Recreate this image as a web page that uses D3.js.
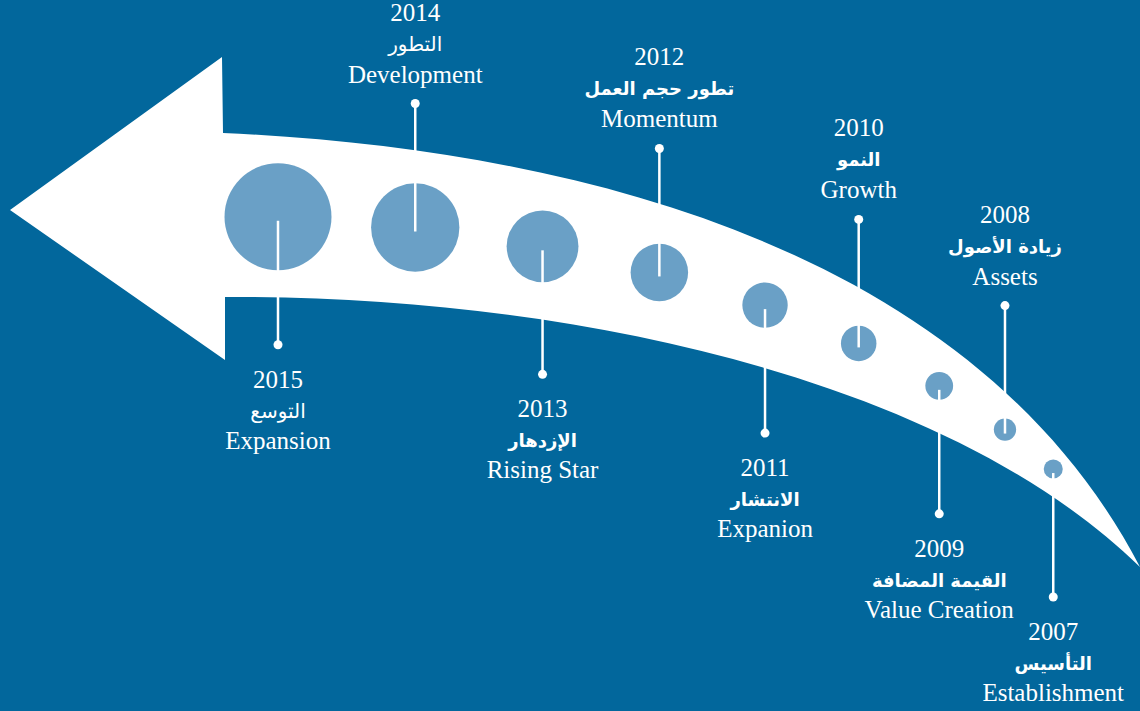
<!DOCTYPE html>
<html>
<head>
<meta charset="utf-8">
<script src="https://cdn.jsdelivr.net/npm/d3@7"></script>
<style>
  body { margin: 0; background: #02679c; }
  svg { display: block; }
</style>
</head>
<body>
<svg id="canvas" width="1140" height="711"></svg>
<script>
let years = [2015, 2014, 2013, 2012, 2011, 2010, 2009, 2008, 2007]
let arabicLabels = ['التوسع', 'التطور', 'الإزدهار', 'تطور حجم العمل', 'الانتشار', 'النمو', 'القيمة المضافة', 'زيادة الأصول', 'التأسيس']
let englishLabels = ['Expansion', 'Development', 'Rising Star', 'Momentum', 'Expanion', 'Growth', 'Value Creation', 'Assets', 'Establishment']

let canvas = d3.select('#canvas')

// arrow shaft edges (cubic curves), the head is drawn with straight lines
let topEdge = [[223, 133], [600, 150], [980, 260], [1140, 567]]
let bottomEdge = [[225, 297], [550, 295], [940, 372], [1140, 567]]

let bez = (p, t) => {
    let u = 1 - t
    let a = u * u * u, b = 3 * u * u * t, c = 3 * u * t * t, d = t * t * t
    return [a * p[0][0] + b * p[1][0] + c * p[2][0] + d * p[3][0],
            a * p[0][1] + b * p[1][1] + c * p[2][1] + d * p[3][1]]
}

// y of an edge at a given x (x grows with t)
let yAt = (p, xv) => {
    let lo = 0, hi = 1
    for (let i = 0; i < 40; i++) {
        let mid = (lo + hi) / 2
        if (bez(p, mid)[0] < xv) lo = mid
        else hi = mid
    }
    return bez(p, lo)[1]
}

// years since 2006 -> position / size
let since = (year) => year - 2006
let x = d3.scalePow().exponent(1.6).domain([0, 9]).range([1077, 278])
let r = d3.scalePow().exponent(2).domain([1, 9]).range([9.5, 53.5])

let arrow = d3.path()
arrow.moveTo(10, 210)
arrow.lineTo(222, 57)
arrow.lineTo(223, 133)
arrow.bezierCurveTo(topEdge[1][0], topEdge[1][1], topEdge[2][0], topEdge[2][1], topEdge[3][0], topEdge[3][1])
arrow.bezierCurveTo(bottomEdge[2][0], bottomEdge[2][1], bottomEdge[1][0], bottomEdge[1][1], bottomEdge[0][0], bottomEdge[0][1])
arrow.lineTo(225, 360)
arrow.closePath()

canvas.append('path')
    .attr('d', arrow.toString())
    .attr('fill', '#ffffff')

let items = years.map((year, i) => {
    let cx = x(since(year))
    let cy = (yAt(topEdge, cx) + yAt(bottomEdge, cx)) / 2
    let up = year % 2 === 0
    let dotY = up ? cy - 124 : cy + 128
    return { year: year, arabic: arabicLabels[i], english: englishLabels[i], cx: cx, cy: cy, up: up, dotY: dotY }
})

canvas.selectAll('circle.step')
    .data(items)
    .enter()
    .append('circle')
    .attr('class', 'step')
    .attr('cx', (d) => d.cx)
    .attr('cy', (d) => d.cy)
    .attr('r', (d) => r(since(d.year)))
    .attr('fill', '#6aa0c6')

canvas.selectAll('line.stem')
    .data(items)
    .enter()
    .append('line')
    .attr('class', 'stem')
    .attr('x1', (d) => d.cx)
    .attr('x2', (d) => d.cx)
    .attr('y1', (d) => d.cy + 4)
    .attr('y2', (d) => d.dotY)
    .attr('stroke', '#ffffff')
    .attr('stroke-width', 2.5)

canvas.selectAll('circle.dot')
    .data(items)
    .enter()
    .append('circle')
    .attr('class', 'dot')
    .attr('cx', (d) => d.cx)
    .attr('cy', (d) => d.dotY)
    .attr('r', 4.5)
    .attr('fill', '#ffffff')

let labels = canvas.selectAll('g.label')
    .data(items)
    .enter()
    .append('g')
    .attr('class', 'label')
    .attr('transform', (d) => 'translate(' + d.cx + ',' + d.dotY + ')')
    .attr('fill', '#ffffff')
    .attr('text-anchor', 'middle')

labels.append('text')
    .attr('y', (d) => d.up ? -83 : 43)
    .style('font-family', '"Liberation Serif", serif')
    .style('font-size', '25px')
    .text((d) => d.year)

labels.append('text')
    .attr('y', (d) => d.up ? -53 : 73)
    .attr('direction', 'rtl')
    .style('font-family', '"DejaVu Sans", sans-serif')
    .style('font-size', (d) => d.year >= 2014 ? '20px' : '18px')
    .style('font-weight', (d) => d.year >= 2014 ? 'normal' : 'bold')
    .text((d) => d.arabic)

labels.append('text')
    .attr('y', (d) => d.up ? -21 : 104)
    .style('font-family', '"Liberation Serif", serif')
    .style('font-size', '25px')
    .text((d) => d.english)
</script>
</body>
</html>
